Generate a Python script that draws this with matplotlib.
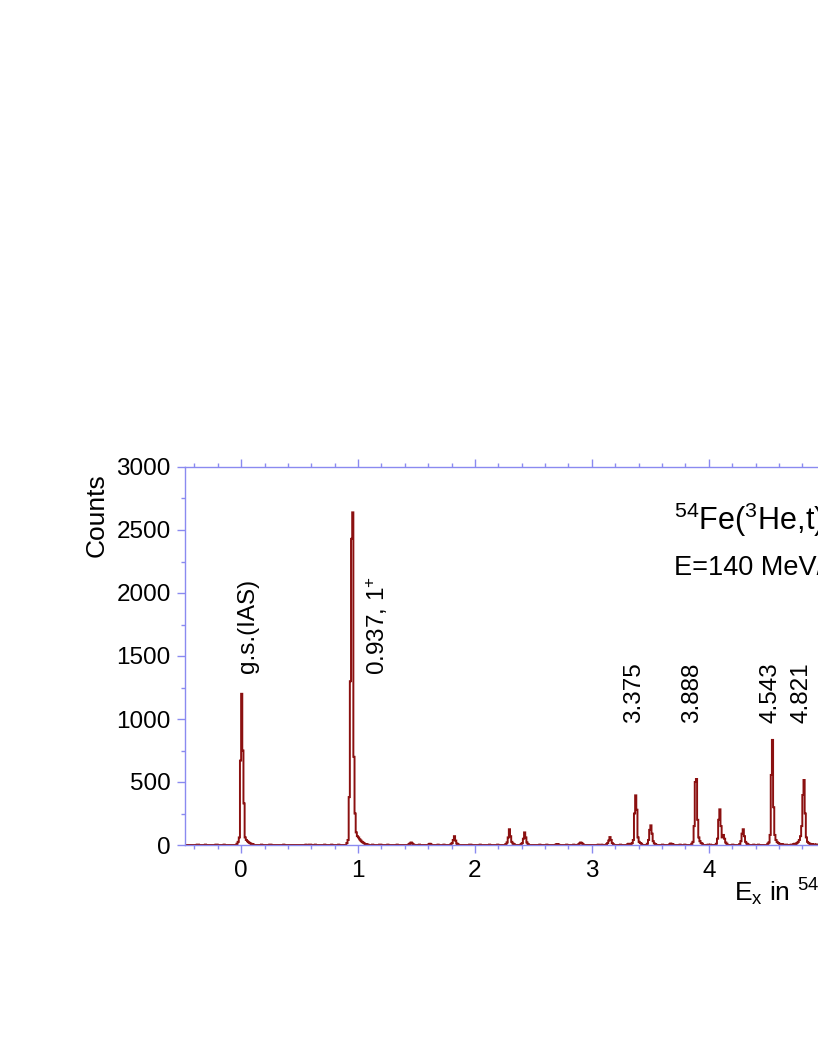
import numpy as np
import matplotlib
matplotlib.use("Agg")
import matplotlib.pyplot as plt
from matplotlib.ticker import MultipleLocator

plt.rcParams['font.family'] = ['Liberation Sans', 'DejaVu Sans']
plt.rcParams['mathtext.fontset'] = 'custom'
plt.rcParams['mathtext.rm'] = 'Liberation Sans'
plt.rcParams['mathtext.it'] = 'Liberation Sans:italic'
plt.rcParams['mathtext.bf'] = 'Liberation Sans:bold'

# ---------------- data ----------------
bin_width = 0.01
hist_start = -0.48
hist_stop = 6.20

# each peak: first bin low edge and counts of consecutive bins
peak_start = [-0.04, 0.90, 1.43, 1.60, 1.79, 2.26, 2.39, 2.69, 2.88, 3.12,
              3.30, 3.33, 3.47, 3.66, 3.85, 4.06, 4.26, 4.50, 4.72, 4.75]
peak_counts = [
    [10, 25, 60, 670, 1200, 750, 330, 60, 40, 30, 22, 15, 10, 6, 4],
    [15, 40, 380, 1300, 2430, 2640, 700, 250, 100, 70, 60, 45, 35, 25, 18, 12, 8, 5, 3],
    [5, 12, 20, 12, 5],
    [4, 10, 4],
    [6, 15, 40, 70, 35, 12, 6],
    [8, 20, 60, 125, 70, 25, 12, 8],
    [6, 15, 50, 100, 60, 20, 8],
    [5, 8, 5],
    [5, 12, 20, 14, 6],
    [6, 15, 35, 63, 40, 15, 6],
    [5, 10, 6],
    [8, 15, 40, 250, 394, 280, 60, 25, 15, 10],
    [10, 40, 120, 156, 90, 30, 12, 8],
    [5, 12, 8, 4],
    [10, 25, 150, 500, 524, 200, 60, 30, 15, 10],
    [10, 50, 200, 283, 150, 60, 80, 50, 20, 10],
    [8, 30, 90, 125, 70, 25, 12, 6],
    [10, 20, 80, 556, 834, 300, 80, 40, 25, 15, 10, 8, 6, 5],
    [5, 10, 6],
    [15, 25, 40, 70, 150, 397, 516, 250, 60, 25, 15, 10, 8, 6, 5, 5, 4, 4, 4],
]

# isolated low-count bins along the baseline
noise_energy = [-0.38, -0.37, -0.31, -0.22, -0.21, -0.15, 0.17, 0.24, 0.25, 0.36,
                0.55, 0.58, 0.59, 0.63, 0.71, 0.77, 0.83, 1.12, 1.18, 1.19,
                1.25, 1.33, 1.52, 1.68, 1.73, 1.95, 1.96, 2.04, 2.12, 2.19,
                2.55, 2.61, 2.78, 2.84, 3.05, 3.08, 3.24, 3.60, 3.75, 3.79,
                3.99, 4.01, 4.20, 4.38, 4.42, 4.66, 4.70]
noise_counts = [3] * len(noise_energy)

peak_labels = ["g.s.(IAS)", "0.937, 1$^{+}$", "3.375", "3.888", "4.543", "4.821"]
label_energy = [0.055, 1.16, 3.365, 3.86, 4.53, 4.79]
label_count = [1365, 1350, 970, 970, 970, 970]

# ---------------- build histogram ----------------
n_bins = int(round((hist_stop - hist_start) / bin_width))
edges = hist_start + bin_width * np.arange(n_bins + 1)
counts = np.zeros(n_bins)
for s, vals in zip(peak_start, peak_counts):
    i0 = int(round((s - hist_start) / bin_width))
    for k, v in enumerate(vals):
        counts[i0 + k] += v
for e, v in zip(noise_energy, noise_counts):
    counts[int(round((e - hist_start) / bin_width))] += v

# ---------------- figure ----------------
W, H = 818, 1058
fig = plt.figure(figsize=(W / 100, H / 100), dpi=100)
left_px, right_px, top_px, bot_px = 185, 966, 467, 845
ax = fig.add_axes([left_px / W, 1 - bot_px / H, (right_px - left_px) / W, (bot_px - top_px) / H])

red = '#8b1010'
blue = '#8a8af0'
ax.stairs(counts, edges, color=red, lw=1.4, baseline=None, zorder=2)

ax.set_xlim(hist_start, hist_stop)
ax.set_ylim(0, 3000)

for side in ['top', 'bottom', 'left', 'right']:
    ax.spines[side].set_color(blue)
    ax.spines[side].set_linewidth(1.0)
    ax.spines[side].set_zorder(3)

ax.xaxis.set_major_locator(MultipleLocator(1))
ax.xaxis.set_minor_locator(MultipleLocator(0.2))
ax.yaxis.set_major_locator(MultipleLocator(500))
ax.yaxis.set_minor_locator(MultipleLocator(250))

ax.tick_params(axis='both', which='both', color=blue, direction='out',
               labelsize=17.5, labelcolor='black', width=1.0)
ax.tick_params(axis='x', which='both', top=True, bottom=True, labeltop=False)
ax.tick_params(which='major', length=5.8, pad=5)
ax.tick_params(which='minor', length=3.0)
ax.tick_params(axis='y', which='major', pad=4.5)

# peak labels
for t, e, c in zip(peak_labels, label_energy, label_count):
    ax.text(e, c, t, rotation=90, ha='center', va='bottom', fontsize=17.5, color='black')

# titles and axis labels
fig.text(674 / W, 1 - 530 / H, r'$^{54}$Fe($^{3}$He,t)$^{54}$Co', fontsize=22,
         ha='left', va='baseline')
fig.text(674 / W, 1 - 575 / H, 'E=140 MeV/nucleon', fontsize=19.5,
         ha='left', va='baseline')
fig.text(734 / W, 1 - 902 / H, r'E$_{\mathrm{x}}$ in $^{54}$Co (MeV)', fontsize=19,
         ha='left', va='baseline')
fig.text(97 / W, 1 - 473 / H, 'Counts', rotation=90, fontsize=19,
         ha='center', va='top')

fig.savefig('out.png', dpi=100)
